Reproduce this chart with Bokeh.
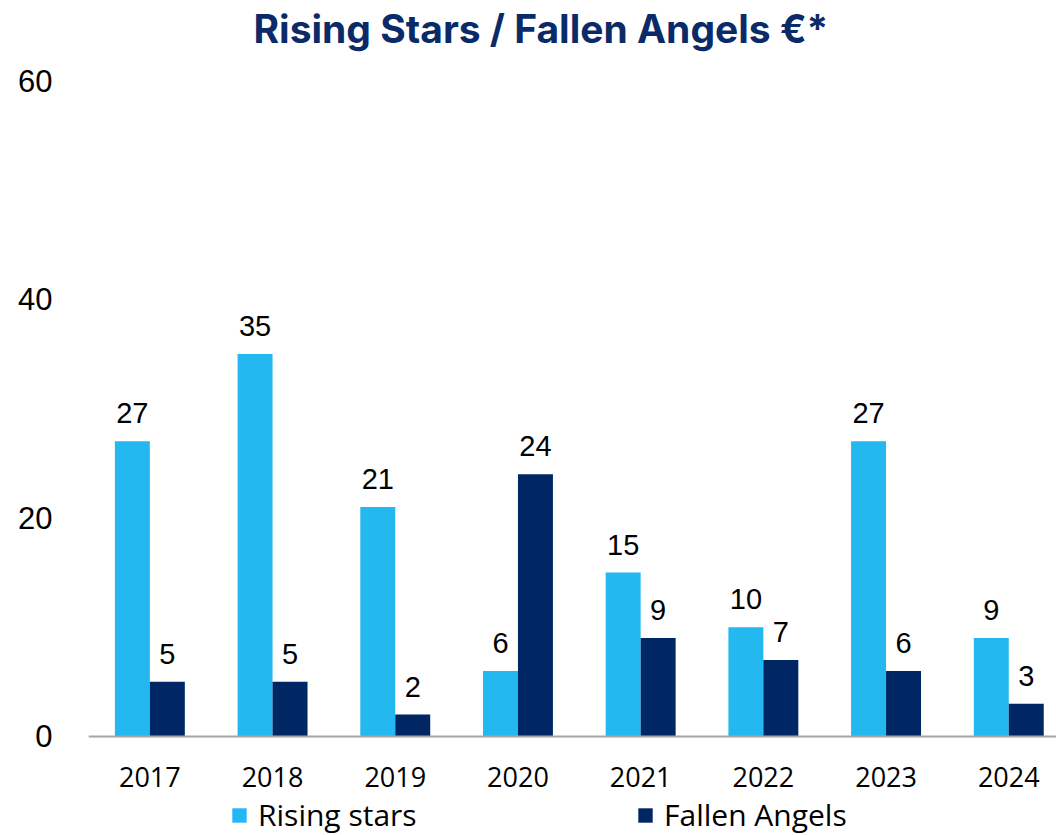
from bokeh.plotting import figure
from bokeh.models import (ColumnDataSource, FixedTicker, LabelSet, Legend,
                          LegendItem, Range1d)
from bokeh.core.properties import value
from bokeh.embed import file_html
from bokeh.resources import INLINE

# ---- data ----
years = ["2017", "2018", "2019", "2020", "2021", "2022", "2023", "2024"]
rising_stars = [27, 35, 21, 6, 15, 10, 27, 9]
fallen_angels = [5, 5, 2, 24, 9, 7, 6, 3]
y_ticks = [0, 20, 40, 60]
series_names = ["Rising stars", "Fallen Angels"]

LIGHT = "#23B8EF"
DARK = "#002664"
TITLE_C = "#0B2B68"

centers = [i + 0.5 for i in range(len(years))]
bw = 0.285
src = ColumnDataSource(dict(
    xr=[c - bw / 2 for c in centers],
    xf=[c + bw / 2 for c in centers],
    rising=rising_stars,
    fallen=fallen_angels,
    rl=[str(v) for v in rising_stars],
    fl=[str(v) for v in fallen_angels],
))

p = figure(width=1056, height=835,
           x_range=Range1d(0, 7.889), y_range=Range1d(-9.06, 62.21),
           output_backend="svg", toolbar_location=None,
           min_border_left=88, min_border_right=0,
           min_border_top=56, min_border_bottom=0,
           title="Rising Stars / Fallen Angels €*")
p.title.text_font = "Inter"
p.title.text_font_style = "bold"
p.title.text_font_size = "39px"
p.title.text_color = TITLE_C
p.title.align = "left"
p.title.offset = 165
p.title.vertical_align = "top"
p.title.standoff = 6

p.outline_line_color = None
p.xgrid.visible = False
p.ygrid.visible = False

r1 = p.vbar(x="xr", top="rising", width=bw, source=src,
            fill_color=LIGHT, line_color=None)
r2 = p.vbar(x="xf", top="fallen", width=bw, source=src,
            fill_color=DARK, line_color=None)

for field, xf, ycol in (("rl", "xr", "rising"), ("fl", "xf", "fallen")):
    p.add_layout(LabelSet(x=xf, y=ycol, text=field, source=src,
                          text_align="center", text_baseline="alphabetic",
                          y_offset=18, text_font=value("Liberation Sans"),
                          text_font_size="29px", text_color="#000000"))

# axes
xa = p.xaxis[0]
xa.fixed_location = 0
xa.ticker = FixedTicker(ticks=centers)
xa.major_label_overrides = {c: y for c, y in zip(centers, years)}
xa.major_tick_line_color = None
xa.minor_tick_line_color = None
xa.axis_line_color = "#A6A6A6"
xa.axis_line_width = 2
xa.major_label_text_font = "Open Sans"
xa.major_label_text_font_size = "27px"
xa.major_label_text_color = "#000000"
xa.major_label_standoff = 25

ya = p.yaxis[0]
ya.ticker = FixedTicker(ticks=y_ticks)
ya.axis_line_color = None
ya.major_tick_line_color = None
ya.minor_tick_line_color = None
ya.major_label_text_font = "Liberation Sans"
ya.major_label_text_font_size = "31px"
ya.major_label_text_color = "#000000"
ya.major_label_standoff = 30

for name, rend, xloc in ((series_names[0], r1, 142), (series_names[1], r2, 548)):
    lg = Legend(items=[LegendItem(label=name, renderers=[rend])],
                location=(xloc, 0), orientation="horizontal",
                glyph_width=18, glyph_height=18, label_standoff=10,
                padding=0, margin=0, spacing=0,
                border_line_color=None, background_fill_alpha=0,
                label_text_font="Open Sans", label_text_font_size="30px",
                label_text_color="#000000")
    p.add_layout(lg, "center")

open("out.html", "w").write(file_html(p, INLINE))
